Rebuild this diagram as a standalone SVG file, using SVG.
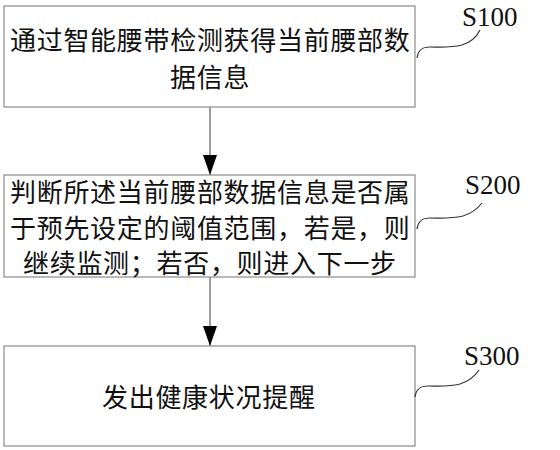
<svg xmlns="http://www.w3.org/2000/svg" width="560" height="450" viewBox="0 0 560 450">
<defs>
<style>
.box{fill:#fff;stroke:#8a8a8a;stroke-width:1.2}
.t{font-family:"Noto Sans CJK SC","Noto Sans CJK TC",sans-serif;font-size:26px;letter-spacing:0.7px;fill:#111}
.lbl{font-family:"Liberation Serif",serif;font-size:27px;fill:#111}
.ln{fill:none;stroke:#6a6a6a;stroke-width:1.3}
.cv{fill:none;stroke:#333;stroke-width:1.2}
</style>
<marker id="ah" markerWidth="20" markerHeight="14" refX="20" refY="7" orient="auto" markerUnits="userSpaceOnUse" viewBox="0 0 20 14">
<path d="M0,0 L20,7 L0,14 Z" fill="#000"/>
</marker>
</defs>
<rect width="560" height="450" fill="#fff"/>
<g id="connectors">
<line class="ln" x1="210" y1="107" x2="210" y2="175" marker-end="url(#ah)"/>
<line class="ln" x1="210" y1="277" x2="210" y2="346" marker-end="url(#ah)"/>
</g>
<g id="S100">
<rect class="box" x="4" y="6" width="411" height="101"/>
<text class="t" x="10" y="50">通过智能腰带检测获得当前腰部数</text>
<text class="t" x="170" y="87">据信息</text>
<path class="cv" d="M417,58 C418,50 422,47 430,47 C440,47 450,48 462,45 C472,42 477,36 480,30"/>
<text class="lbl" x="462" y="26">S100</text>
</g>
<g id="S200">
<rect class="box" x="4" y="175" width="411" height="102"/>
<text class="t" x="10" y="202">判断所述当前腰部数据信息是否属</text>
<text class="t" x="10" y="238">于预先设定的阈值范围，若是，则</text>
<text class="t" x="23" y="273">继续监测；若否，则进入下一步</text>
<path class="cv" d="M417,229 C418,221 422,218 430,218 C440,218 450,219 463,216 C473,213 478,208 482,203"/>
<text class="lbl" x="465" y="194">S200</text>
</g>
<g id="S300">
<rect class="box" x="4" y="346" width="411" height="100"/>
<text class="t" x="102" y="407">发出健康状况提醒</text>
<path class="cv" d="M415,397 C416,389 420,386 428,386 C438,386 448,387 460,384 C470,381 475,376 479,370"/>
<text class="lbl" x="464" y="365">S300</text>
</g>
</svg>
